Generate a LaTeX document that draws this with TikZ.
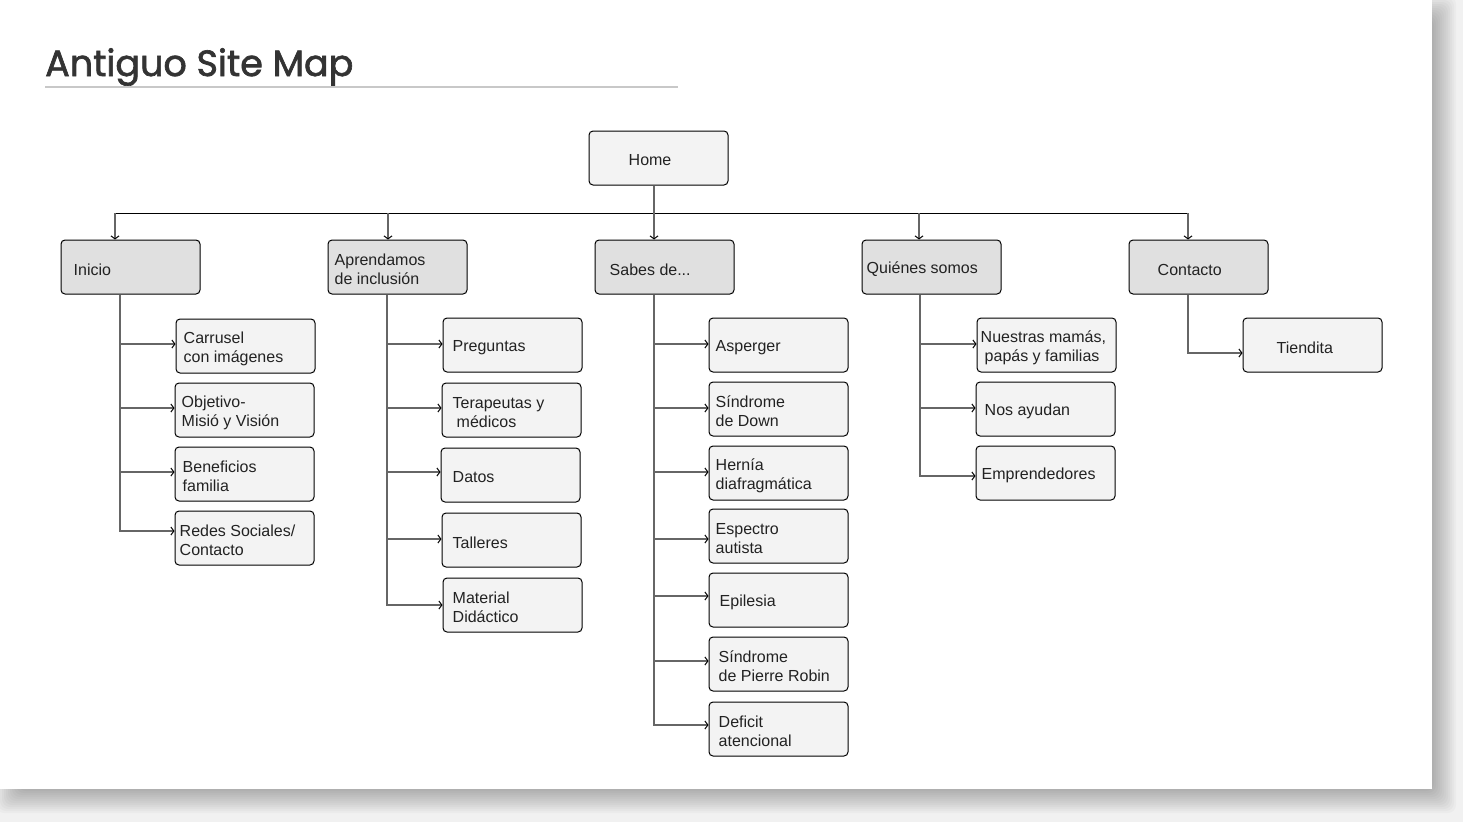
\documentclass[tikz,border=0pt]{standalone}
\usepackage{fontspec}
\setmainfont{Liberation Sans}
\newfontfamily\titlefont{Poppins}[FakeBold=1.8]
\usetikzlibrary{arrows.meta,calc}
\definecolor{bg}{HTML}{F1F1F1}
\definecolor{lightbox}{HTML}{F3F3F3}
\definecolor{darkbox}{HTML}{E0E0E0}
\definecolor{linegray}{HTML}{666666}
\definecolor{txtc}{HTML}{222222}
\definecolor{titlec}{HTML}{333333}
\definecolor{rulec}{HTML}{C8C8C8}
\newcommand\mybox[6]{%
  \node[#4] (#1) at ({#2+69.5},{#3+27}) {};
  \node[txt, anchor=west] (#1-t) at ([xshift=#5pt,yshift=-2.5pt]#1.west) {#6};
}
\newcommand\kid[3]{%
  \draw[arr] ([yshift=#3pt]#2.west -| #1) -- ([yshift=#3pt]#2.west);
}
\begin{document}
\begin{tikzpicture}[x=1pt,y=-1pt,
  boxbase/.style={draw=black, line width=1pt, rounded corners=4pt, minimum width=139pt, minimum height=54pt, inner sep=0pt},
  leaf/.style={boxbase, fill=lightbox},
  mainbox/.style={boxbase, fill=darkbox},
  txt/.style={font=\fontsize{16}{19}\selectfont, text=txtc, align=left, inner sep=0pt},
  conn/.style={draw=linegray, line width=1.6pt},
  arr/.style={conn, -{Straight Barb[length=3pt,width=8pt,line width=1pt,color=black]}},
  bus/.style={draw=black, line width=1pt}]
\useasboundingbox (0,0) rectangle (1463,822);
\fill[bg] (0,0) rectangle (1463,822);
\foreach \r in {-14,-12,...,14}
  \fill[black, opacity=0.022, rounded corners=8pt] ({10-\r},{10-\r}) rectangle ({1442+\r},{799+\r});
\fill[white] (0,0) rectangle (1432,789);

% title
\node[anchor=base west, font=\titlefont\fontsize{36.5}{42}\selectfont, text=titlec, inner sep=0pt] (title) at (45,76) {Antiguo Site Map};
\draw[rulec, line width=2pt] (45,87) -- (678,87);

% top level
\mybox{home}{589}{131}{leaf}{40}{Home}
\mybox{inicio}{61}{240}{mainbox}{13}{Inicio}
\mybox{aprend}{328}{240}{mainbox}{7}{Aprendamos\\de inclusión}
\mybox{sabes}{595}{240}{mainbox}{15}{Sabes de...}
\mybox{quienes}{862}{240}{mainbox}{5}{Quiénes somos}
\mybox{contacto}{1129}{240}{mainbox}{29}{Contacto}

% Inicio children
\mybox{carrusel}{176}{319}{leaf}{8}{Carrusel\\con imágenes}
\mybox{objetivo}{175}{383}{leaf}{7}{Objetivo-\\Misió y Visión}
\mybox{benef}{175}{447}{leaf}{8}{Beneficios\\familia}
\mybox{redes}{175}{511}{leaf}{5}{Redes Sociales/\\Contacto}

% Aprendamos children
\mybox{preguntas}{443}{318}{leaf}{10}{Preguntas}
\mybox{terap}{442}{383}{leaf}{11}{Terapeutas y\\\hspace*{4pt}médicos}
\mybox{datos}{441}{448}{leaf}{12}{Datos}
\mybox{talleres}{442}{513}{leaf}{11}{Talleres}
\mybox{material}{443}{578}{leaf}{10}{Material\\Didáctico}

% Sabes children
\mybox{asperger}{709}{318}{leaf}{7}{Asperger}
\mybox{down}{709}{382}{leaf}{7}{Síndrome\\de Down}
\mybox{hernia}{709}{446}{leaf}{7}{Hernía\\diafragmática}
\mybox{espectro}{709}{509}{leaf}{7}{Espectro\\autista}
\mybox{epilesia}{709}{573}{leaf}{11}{Epilesia}
\mybox{pierre}{709}{637}{leaf}{10}{Síndrome\\de Pierre Robin}
\mybox{deficit}{709}{702}{leaf}{10}{Deficit\\atencional}

% Quienes children
\mybox{nuestras}{977}{318}{leaf}{4}{Nuestras mamás,\\\hspace*{4pt}papás y familias}
\mybox{nos}{976}{382}{leaf}{9}{Nos ayudan}
\mybox{empr}{976}{446}{leaf}{6}{Emprendedores}

% Contacto child
\mybox{tiendita}{1243}{318}{leaf}{34}{Tiendita}

% bus
\coordinate (bI) at (115,213);
\coordinate (bA) at (388,213);
\coordinate (bS) at (654,213);
\coordinate (bQ) at (919,213);
\coordinate (bC) at (1188,213);
\draw[bus] (bI) -- (bC);
\draw[arr] (bI) -- (bI |- inicio.north);
\draw[arr] (bA) -- (bA |- aprend.north);
\draw[arr] (home.south -| bS) -- (bS |- sabes.north);
\draw[arr] (bQ) -- (bQ |- quienes.north);
\draw[arr] (bC) -- (bC |- contacto.north);

% trunks
\coordinate (tI) at (120,300);
\coordinate (tA) at (387,300);
\coordinate (tS) at (654,300);
\coordinate (tQ) at (920,300);
\coordinate (tC) at (1188,300);

\draw[arr] (tI |- inicio.south) -- ([yshift=7pt]redes.west -| tI) -- ([yshift=7pt]redes.west);
\kid{tI}{carrusel}{2}
\kid{tI}{objetivo}{2}
\kid{tI}{benef}{2}

\draw[arr] (tA |- aprend.south) -- ([yshift=0pt]material.west -| tA) -- ([yshift=0pt]material.west);
\kid{tA}{preguntas}{1}
\kid{tA}{terap}{2}
\kid{tA}{datos}{3}
\kid{tA}{talleres}{1}

\draw[arr] (tS |- sabes.south) -- ([yshift=4pt]deficit.west -| tS) -- ([yshift=4pt]deficit.west);
\kid{tS}{asperger}{1}
\kid{tS}{down}{1}
\kid{tS}{hernia}{1}
\kid{tS}{espectro}{-3}
\kid{tS}{epilesia}{4}
\kid{tS}{pierre}{3}

\draw[arr] (tQ |- quienes.south) -- ([yshift=-3pt]empr.west -| tQ) -- ([yshift=-3pt]empr.west);
\kid{tQ}{nuestras}{1}
\kid{tQ}{nos}{1}

\draw[arr] (tC |- contacto.south) -- ([yshift=-8pt]tiendita.west -| tC) -- ([yshift=-8pt]tiendita.west);
\end{tikzpicture}
\end{document}
